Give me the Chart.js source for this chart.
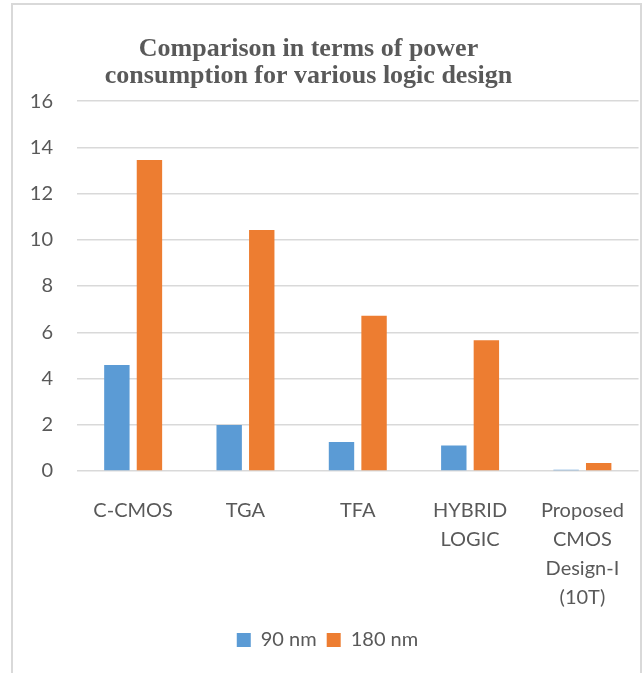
<!doctype html>
<html>
<head>
<title>Power consumption comparison</title>
<script src="https://cdn.jsdelivr.net/npm/chart.js@4"></script>
<style>
body { margin: 0; background: #fff; }
#frame {
	position: absolute; left: 11px; top: 3px; width: 627px; height: 680px;
	border: 2px solid #d9d9d9; border-bottom: none; background: #fff;
}
#container { position: absolute; left: 2px; top: 2px; width: 626px; height: 668px; }
</style>
</head>
<body>
	<div id="frame">
		<div id="container"><canvas id="canvas"></canvas></div>
	</div>
	<script>
		const categories = ['C-CMOS', 'TGA', 'TFA', ['HYBRID', 'LOGIC'], ['Proposed', 'CMOS', 'Design-I', '(10T)']];
		const nm90 = [4.58, 1.99, 1.25, 1.1, 0.05];
		const nm180 = [13.45, 10.42, 6.72, 5.65, 0.35];
		const yTicks = [0, 2, 4, 6, 8, 10, 12, 14, 16];

		const grey = '#595959';
		const tickFont = {family: 'Lato', size: 20};

		// nudge title a bit left, like the original
		const titleShift = {
			id: 'titleShift',
			afterLayout(chart) {
				if (chart.titleBlock) {
					chart.titleBlock.right -= 38;
				}
			}
		};

		const ctx = document.getElementById('canvas').getContext('2d');
		window.myBar = new Chart(ctx, {
			type: 'bar',
			data: {
				labels: categories,
				datasets: [{
					label: '90 nm',
					data: nm90,
					backgroundColor: '#5B9BD5',
					categoryPercentage: 0.58,
					barPercentage: 0.78
				}, {
					label: '180 nm',
					data: nm180,
					backgroundColor: '#ED7D31',
					categoryPercentage: 0.58,
					barPercentage: 0.78
				}]
			},
			plugins: [titleShift],
			options: {
				responsive: true,
				maintainAspectRatio: false,
				animation: false,
				layout: {padding: {left: 0, right: 1, top: 0, bottom: 15}},
				plugins: {
					title: {
						display: true,
						text: ['Comparison in terms of power', 'consumption for various logic design'],
						color: grey,
						font: {family: 'Liberation Serif', size: 26, weight: 'bold', lineHeight: 1.04},
						padding: {top: 29, bottom: 11}
					},
					legend: {
						position: 'bottom',
						labels: {
							color: grey,
							font: tickFont,
							boxWidth: 14,
							boxHeight: 14,
							padding: 10
						}
					},
					tooltip: {enabled: false}
				},
				scales: {
					x: {
						grid: {display: false},
						border: {display: false},
						ticks: {
							color: grey,
							font: {family: 'Lato', size: 20, lineHeight: 1.45},
							maxRotation: 0,
							autoSkip: false,
							padding: 17
						},
						afterFit(axis) {
							axis.height -= 9;
						}
					},
					y: {
						min: 0,
						max: 16,
						afterBuildTicks(axis) {
							axis.ticks = yTicks.map(v => ({value: v}));
						},
						afterFit(axis) {
							axis.width = 62;
						},
						grid: {color: '#d9d9d9', lineWidth: 1.5, drawTicks: false},
						border: {display: false},
						ticks: {color: grey, font: tickFont, padding: 24}
					}
				}
			}
		});
	</script>
</body>
</html>
